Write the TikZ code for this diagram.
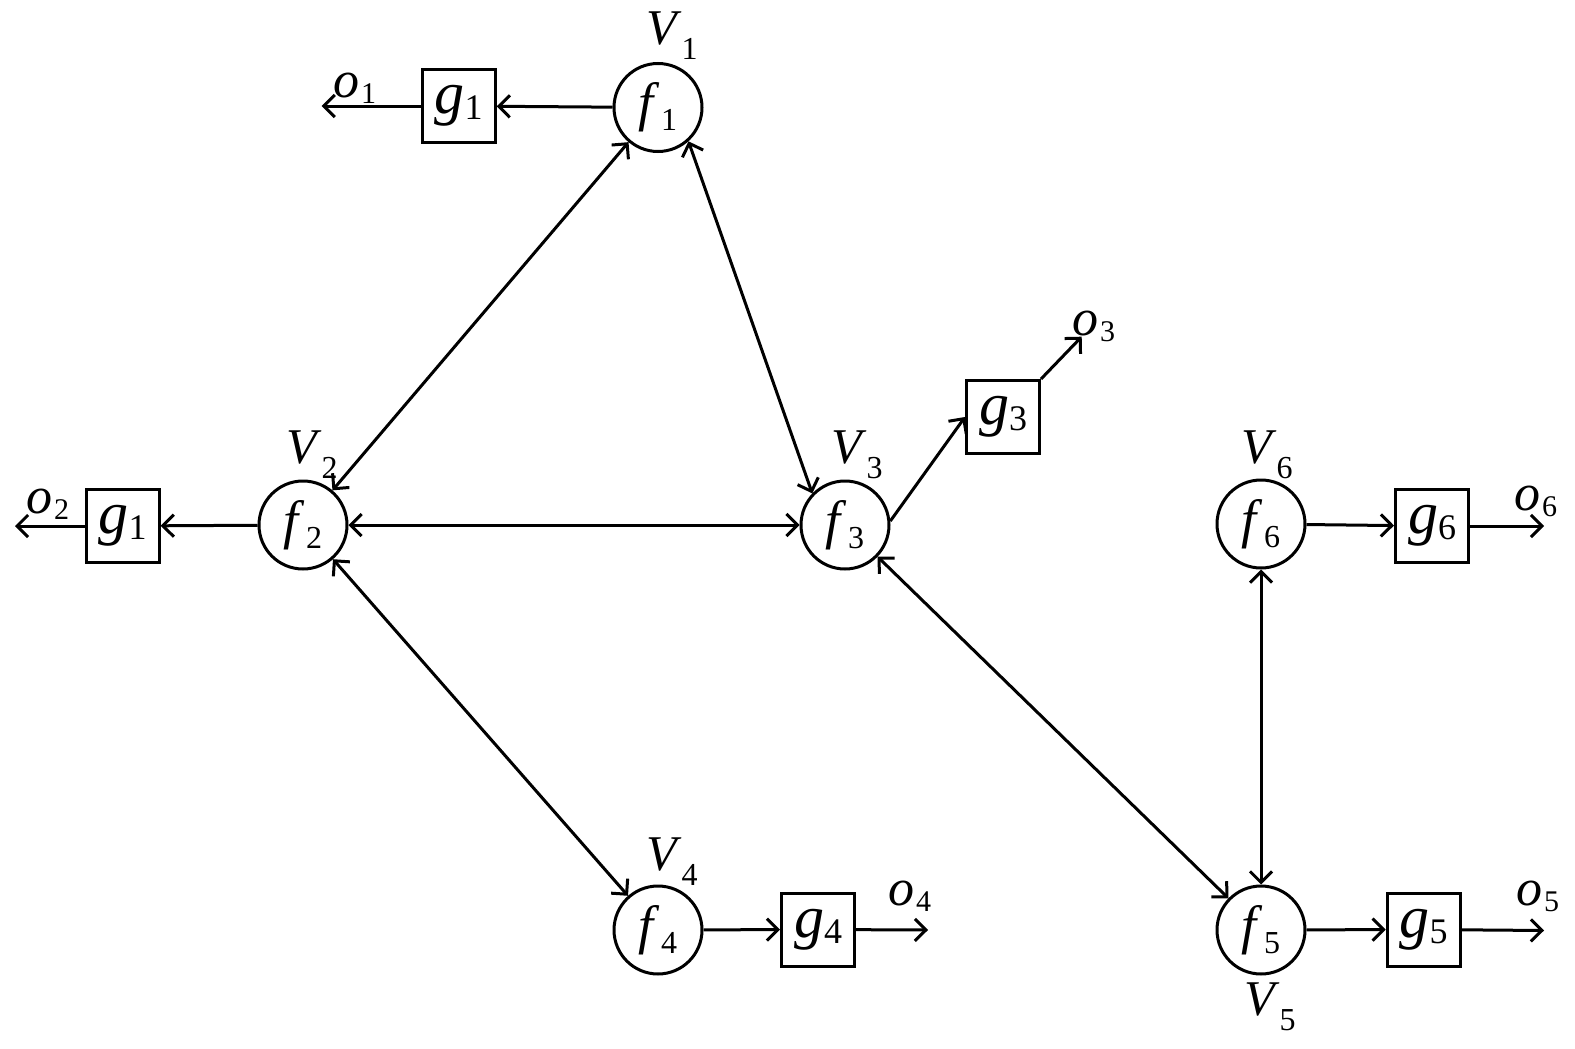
\documentclass[tikz,border=0pt]{standalone}
\usepackage{fontspec}
\setmainfont{Liberation Serif}
\usetikzlibrary{arrows.meta}
\newcommand\ftext[2]{\fontsize{54}{54}\selectfont\textit{#1}\kern1pt\raisebox{-10pt}{\fontsize{32}{32}\selectfont #2}}
\newcommand\gtext[2]{\fontsize{60}{60}\selectfont\textit{#1}\raisebox{-6pt}{\fontsize{36}{36}\selectfont #2}}
\newcommand\Vlab[1]{\fontsize{50}{50}\selectfont\textit{V}\raisebox{-15pt}{\fontsize{32}{32}\selectfont #1}}
\newcommand\olab[1]{\fontsize{52}{52}\selectfont\textit{o}\kern2pt\raisebox{-6pt}{\fontsize{30}{30}\selectfont #1}}
\tikzset{
  fnode/.style={draw, circle, minimum size=88pt, inner sep=0pt, line width=3pt},
  gnode/.style={draw, rectangle, minimum size=73pt, inner sep=0pt, line width=3pt},
  lab/.style={anchor=base west, inner sep=0pt},
  conn/.style={line width=3pt},
  >={Straight Barb[length=11pt,width=22pt]}
}
\begin{document}
\begin{tikzpicture}[x=1pt,y=-1pt]
\useasboundingbox[fill=white] (0,0) rectangle (1575,1049);
% function nodes
\node[fnode] (f1) at (658,107.5) {\ftext{f}{1}};
\node[fnode] (f2) at (303,525) {\ftext{f}{2}};
\node[fnode] (f3) at (845,525) {\ftext{f}{3}};
\node[fnode] (f4) at (658,930) {\ftext{f}{4}};
\node[fnode] (f5) at (1261,930) {\ftext{f}{5}};
\node[fnode] (f6) at (1261,524) {\ftext{f}{6}};
% output boxes
\node[gnode] (g1a) at (458.7,106) {\gtext{g}{1}};
\node[gnode] (g1b) at (122.7,526) {\gtext{g}{1}};
\node[gnode] (g3) at (1003,417) {\gtext{g}{3}};
\node[gnode] (g4) at (818,929.5) {\gtext{g}{4}};
\node[gnode] (g5) at (1423.7,929.5) {\gtext{g}{5}};
\node[gnode] (g6) at (1432,526) {\gtext{g}{6}};
% free ends
\coordinate (o1e) at (321.7,106);
\coordinate (o2e) at (15,526);
\coordinate (o3e) at (1081.7,336.7);
\coordinate (o4e) at (928,930);
\coordinate (o5e) at (1544,930.5);
\coordinate (o6e) at (1544,526);
% labels
\node[lab] (V1) at (646,45) {\Vlab{1}};
\node[lab] (V2) at (286,463) {\Vlab{2}};
\node[lab] (V3) at (831,463) {\Vlab{3}};
\node[lab] (V4) at (646,870) {\Vlab{4}};
\node[lab] (V5) at (1244,1015) {\Vlab{5}};
\node[lab] (V6) at (1241,463) {\Vlab{6}};
\node[lab] (o1) at (333,97) {\olab{1}};
\node[lab] (o2) at (26,513) {\olab{2}};
\node[lab] (o3) at (1072,335) {\olab{3}};
\node[lab] (o4) at (888,905) {\olab{4}};
\node[lab] (o5) at (1516,905) {\olab{5}};
\node[lab] (o6) at (1514,510) {\olab{6}};
% connectors
\draw[conn,->] (f1) -- (g1a);
\draw[conn,->] (g1a) -- (o1e);
\draw[conn,->] (f2) -- (g1b);
\draw[conn,->] (g1b) -- (o2e);
\draw[conn,<->] (f1) -- (f2);
\draw[conn,<->] (f1.-48) -- (f3.136);
\draw[conn,<->] (f2) -- (f3);
\draw[conn,<->] (f2) -- (f4);
\draw[conn,->] (f3.5) -- (g3.west);
\draw[conn,->] (g3.north east) -- (o3e);
\draw[conn,<->] (f3) -- (f5);
\draw[conn,<->] (f6) -- (f5);
\draw[conn,->] (f6) -- (g6);
\draw[conn,->] (g6) -- (o6e);
\draw[conn,->] (f4) -- (g4);
\draw[conn,->] (g4) -- (o4e);
\draw[conn,->] (f5) -- (g5);
\draw[conn,->] (g5) -- (o5e);
\end{tikzpicture}
\end{document}
